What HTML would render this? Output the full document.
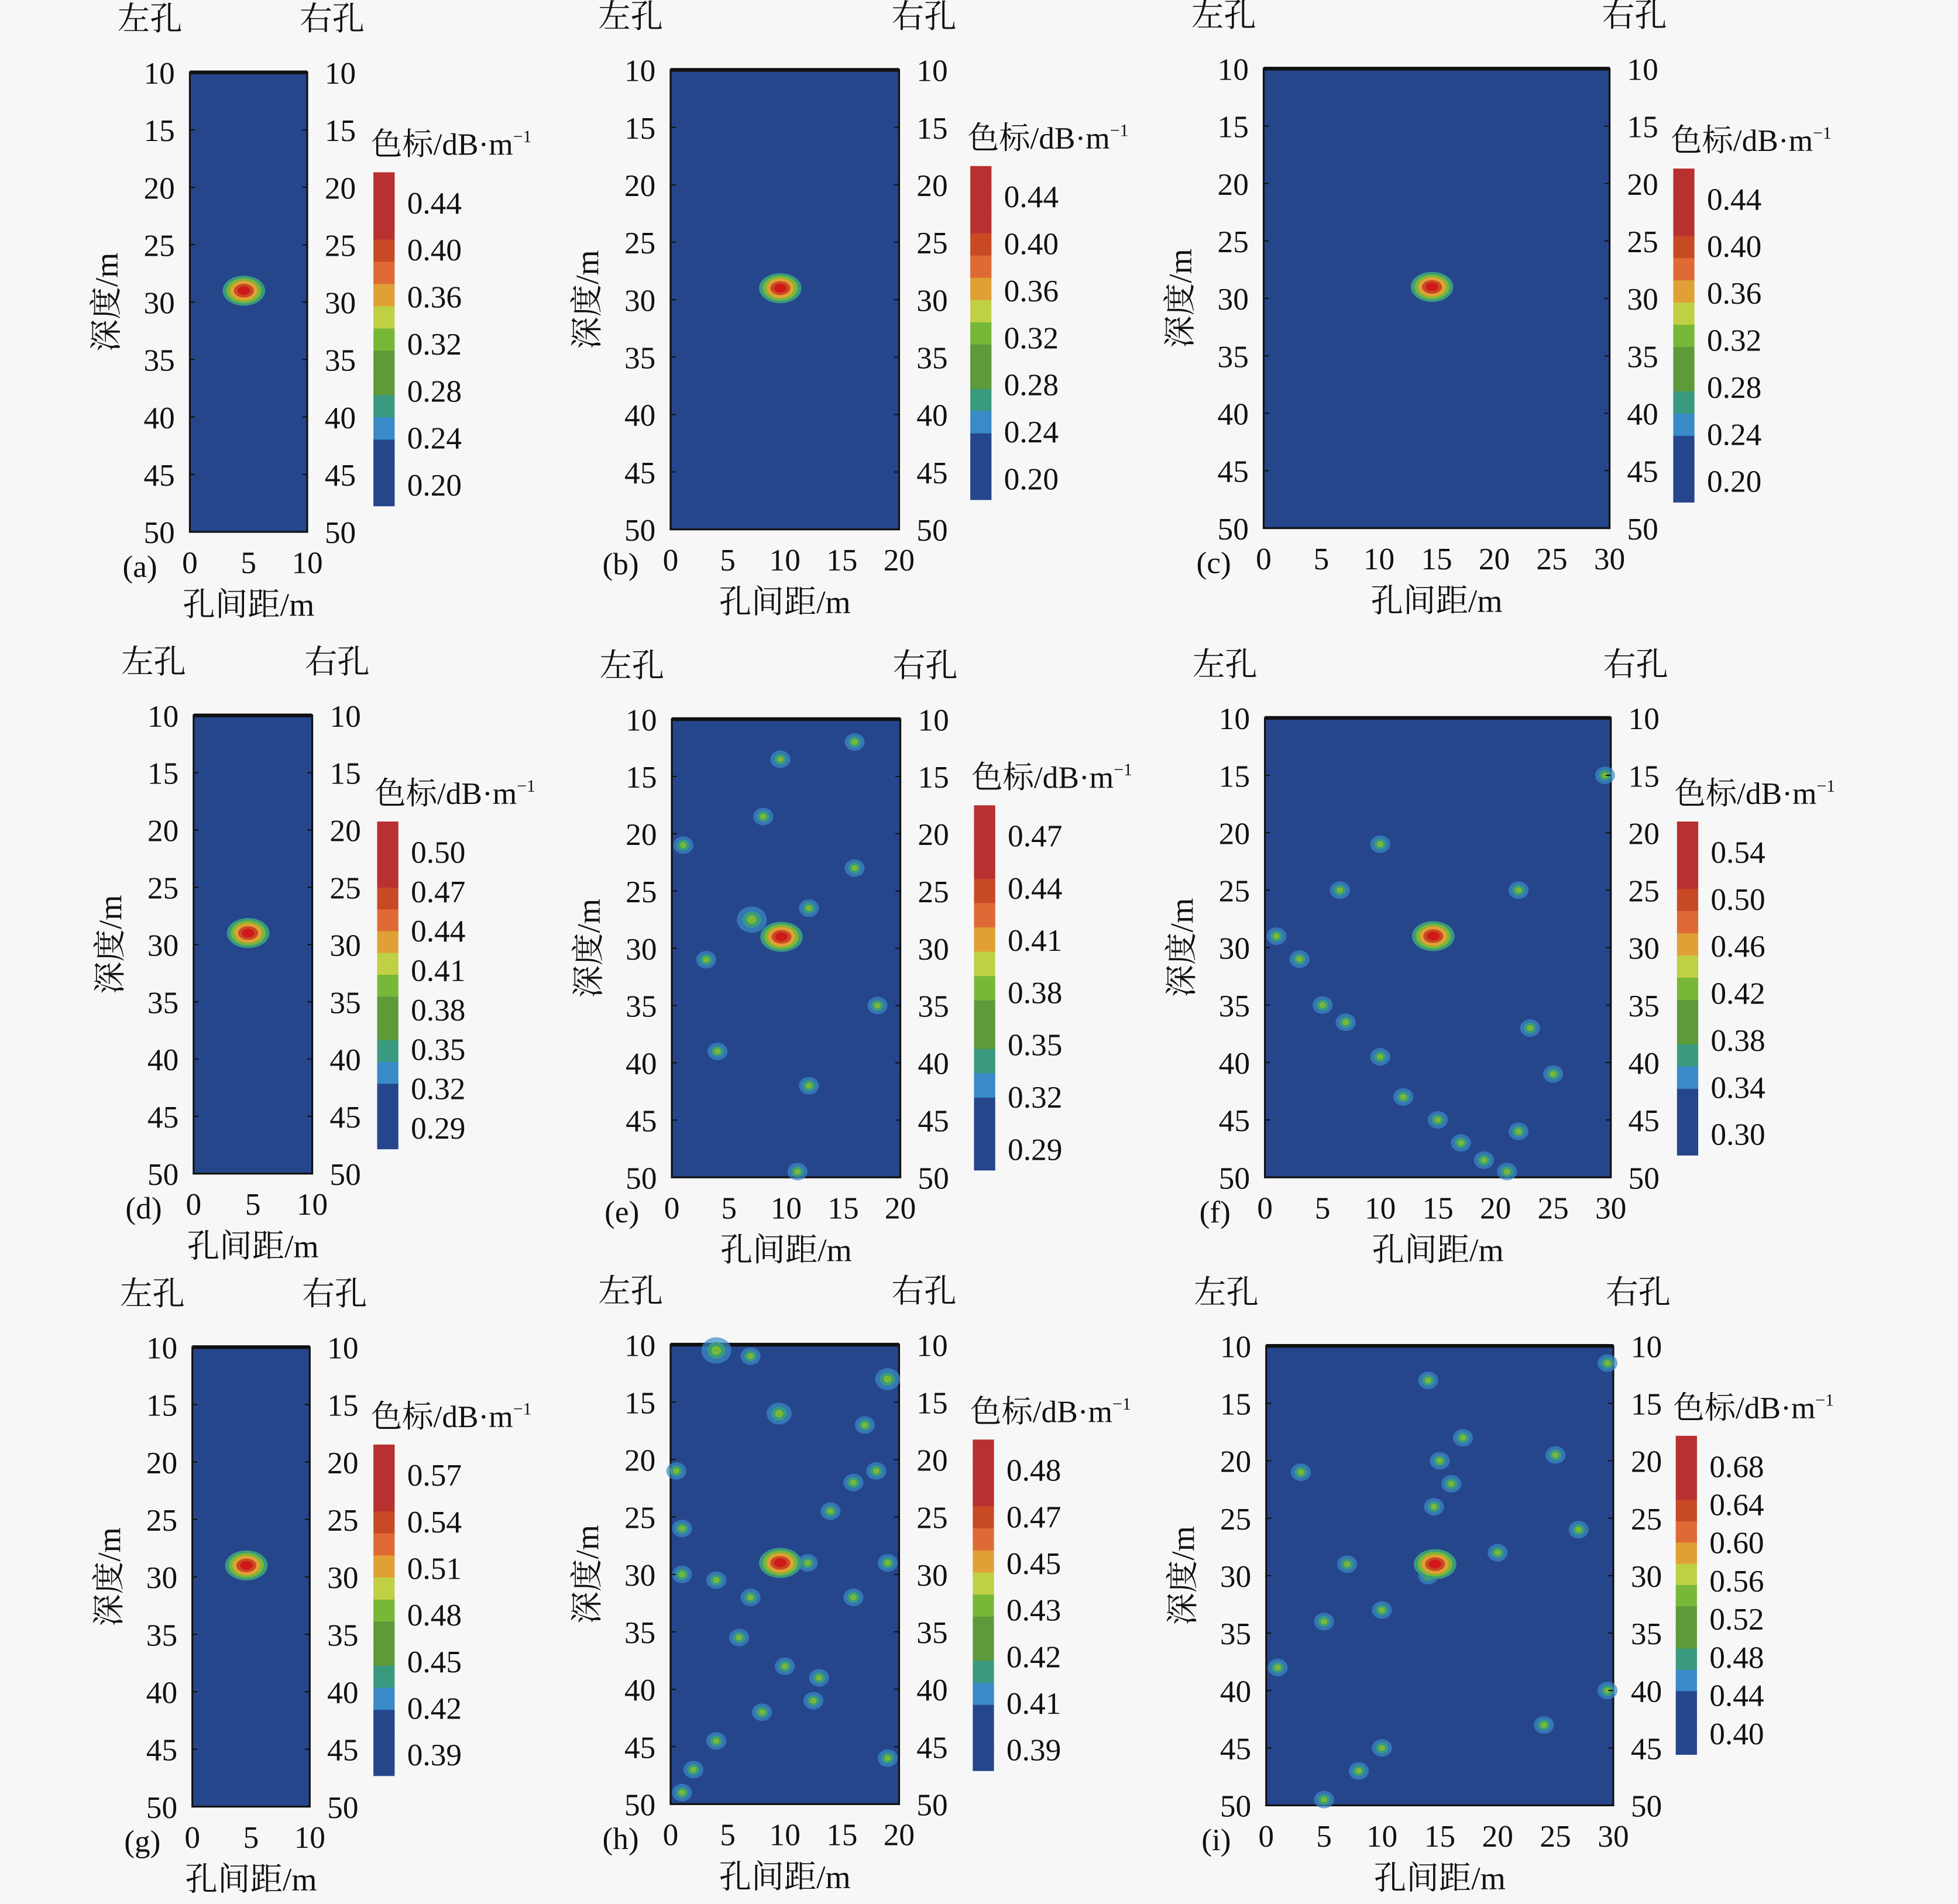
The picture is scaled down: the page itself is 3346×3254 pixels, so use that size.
<!DOCTYPE html>
<html><head><meta charset="utf-8"><style>
html,body{margin:0;padding:0;background:#f7f7f7;}
svg{display:block}
text{font-family:"Liberation Serif","Noto Serif CJK SC","Noto Sans CJK SC",serif;fill:#111}
</style></head><body>
<svg id="s" width="3346" height="3254" viewBox="0 0 1568 1525" xmlns="http://www.w3.org/2000/svg"></svg>
<script>
const S=document.getElementById('s');let h='';
const cols=['#26468c','#26468c','#26468c','#3a8ac8','#3a9a80','#5e9a3a','#5e9a3a','#78b838','#c0d045','#e0a035','#e06a35','#c84a25','#b83030','#b83030','#b83030'];
const P=[
 {l:'a',x0:152,x1:246,y0:58,y1:426,w:10,hx:4.6,cb:[299,138,405],lab:['0.44','0.40','0.36','0.32','0.28','0.24','0.20'],blobs:[]},
 {l:'b',x0:537,x1:720,y0:56,y1:424,w:20,hx:9.6,cb:[777,133,400],lab:['0.44','0.40','0.36','0.32','0.28','0.24','0.20'],blobs:[]},
 {l:'c',x0:1012,x1:1289,y0:55,y1:423,w:30,hx:14.6,cb:[1340,135,402],lab:['0.44','0.40','0.36','0.32','0.28','0.24','0.20'],blobs:[]},
 {l:'d',x0:155,x1:250,y0:573,y1:940,w:10,hx:4.6,cb:[302,658,920],lab:['0.50','0.47','0.44','0.41','0.38','0.35','0.32','0.29'],blobs:[]},
 {l:'e',x0:538,x1:721,y0:576,y1:943,w:20,hx:9.6,cb:[780,645,937],lab:['0.47','0.44','0.41','0.38','0.35','0.32','0.29'],
  blobs:[[9.5,13.5],[8,18.5],[1,21],[7,27.5,3],[12,26.5],[3,31],[16,23],[4,39],[12,42],[11,49.5],[16,12],[18,35]]},
 {l:'f',x0:1013,x1:1290,y0:575,y1:943,w:30,hx:14.6,cb:[1343,658,925],lab:['0.54','0.50','0.46','0.42','0.38','0.34','0.30'],
  blobs:[[1,29],[3,31],[5,35],[7,36.5],[10,39.5],[12,43],[15,45],[17,47],[19,48.5],[21,49.5],[6.5,25],[29.5,15],[22,25],[23,37],[25,41],[22,46],[10,21]]},
 {l:'g',x0:154,x1:248,y0:1079,y1:1447,w:10,hx:4.6,cb:[299,1157,1422],lab:['0.57','0.54','0.51','0.48','0.45','0.42','0.39'],blobs:[]},
 {l:'h',x0:537,x1:720,y0:1077,y1:1445,w:20,hx:9.6,cb:[779,1153,1418],lab:['0.48','0.47','0.45','0.43','0.42','0.41','0.39'],
  blobs:[[4,10.5,3],[7,11],[9.5,16,2.5],[19,13,2.5],[17,17],[16,22],[18,21],[14,24.5],[1,26],[1,30],[4,30.5],[7,32],[12,29],[16,32],[19,29],[6,35.5],[10,38],[13,39],[12.5,41],[8,42],[4,44.5],[2,47],[1,49],[19,46],[0.5,21]]},
 {l:'i',x0:1014,x1:1292,y0:1078,y1:1446,w:30,hx:14.6,cb:[1342,1150,1405],lab:['0.68','0.64','0.60','0.56','0.52','0.48','0.44','0.40'],
  blobs:[[29.5,11.5],[14,13],[17,18],[15,20],[16,22],[14.5,24],[25,19.5],[7,29],[5,34],[1,38],[10,33],[14,30],[29.5,40],[24,43],[10,45],[8,47],[5,49.5],[3,21],[20,28],[27,26]]}
];
const gx=(p,v)=>p.x0+(p.x1-p.x0)*v/p.w, gy=(p,d)=>p.y0+(p.y1-p.y0)*(d-10)/40;
for(const p of P){
 h+=`<rect x="${p.x0}" y="${p.y0}" width="${p.x1-p.x0}" height="${p.y1-p.y0}" fill="#26468c" stroke="#111" stroke-width="1.5"/>`;
 h+=`<line x1="${p.x0}" y1="${p.y0}" x2="${p.x1}" y2="${p.y0}" stroke="#111" stroke-width="3"/>`;
 for(const b of p.blobs){const cx=gx(p,b[0]),cy=gy(p,b[1]),s=b[2]||2;
  h+=`<ellipse cx="${cx}" cy="${cy}" rx="${4*s}" ry="${3.5*s}" fill="#3a8ac8" opacity="0.7"/><ellipse cx="${cx}" cy="${cy}" rx="${2.5*s}" ry="${2.2*s}" fill="#3a9a80"/><ellipse cx="${cx}" cy="${cy}" rx="${1.3*s}" ry="${1.2*s}" fill="#78b838"/>`;}
 const cx=gx(p,p.hx),cy=gy(p,29);
 h+=`<ellipse cx="${cx}" cy="${cy}" rx="17" ry="12" fill="#3a9a80"/><ellipse cx="${cx}" cy="${cy}" rx="14" ry="10" fill="#78b838"/><ellipse cx="${cx}" cy="${cy}" rx="11" ry="8" fill="#e0a035"/><ellipse cx="${cx}" cy="${cy}" rx="8" ry="5.5" fill="#c84a25"/><ellipse cx="${cx}" cy="${cy}" rx="5" ry="3.5" fill="#d01818"/>`;
 for(let d=10;d<=50;d+=5){const y=gy(p,d);
  h+=`<text x="${p.x0-12}" y="${y+9}" font-size="25" text-anchor="end">${d}</text><text x="${p.x1+14}" y="${y+9}" font-size="25">${d}</text>`;
  h+=`<line x1="${p.x0}" y1="${y}" x2="${p.x0+4}" y2="${y}" stroke="#111"/><line x1="${p.x1}" y1="${y}" x2="${p.x1-4}" y2="${y}" stroke="#111"/>`;}
 for(let v=0;v<=p.w;v+=5){h+=`<text x="${gx(p,v)}" y="${p.y1+33}" font-size="25" text-anchor="middle">${v}</text>`;}
 h+=`<text x="${p.x0-40}" y="${p.y1+36}" font-size="25" text-anchor="middle">(${p.l})</text>`;
 h+=`<text x="${(p.x0+p.x1)/2}" y="${p.y1+67}" font-size="26" text-anchor="middle">孔间距/m</text>`;
 h+=`<text transform="translate(${p.x0-58},${(p.y0+p.y1)/2}) rotate(-90)" font-size="26" text-anchor="middle">深度/m</text>`;
 h+=`<text x="${p.x0-32}" y="${p.y0-34}" font-size="26" text-anchor="middle">左孔</text><text x="${p.x1+20}" y="${p.y0-34}" font-size="26" text-anchor="middle">右孔</text>`;
 const [bx,bt,bb]=p.cb,n=cols.length,bh=(bb-bt)/n;
 for(let i=0;i<n;i++)h+=`<rect x="${bx}" y="${bb-(i+1)*bh}" width="17" height="${bh+0.5}" fill="${cols[i]}"/>`;
 h+=`<text x="${bx-2}" y="${bt-14}" font-size="25">色标/dB·m<tspan font-size="14" dy="-10">−1</tspan></text>`;
 const L=p.lab.length,f=bt+33,last=bb-8,step=(last-f)/(L-1);
 p.lab.forEach((t,i)=>{h+=`<text x="${bx+27}" y="${f+i*step}" font-size="25">${t}</text>`;});
}
S.innerHTML=h;
</script>
</body></html>
